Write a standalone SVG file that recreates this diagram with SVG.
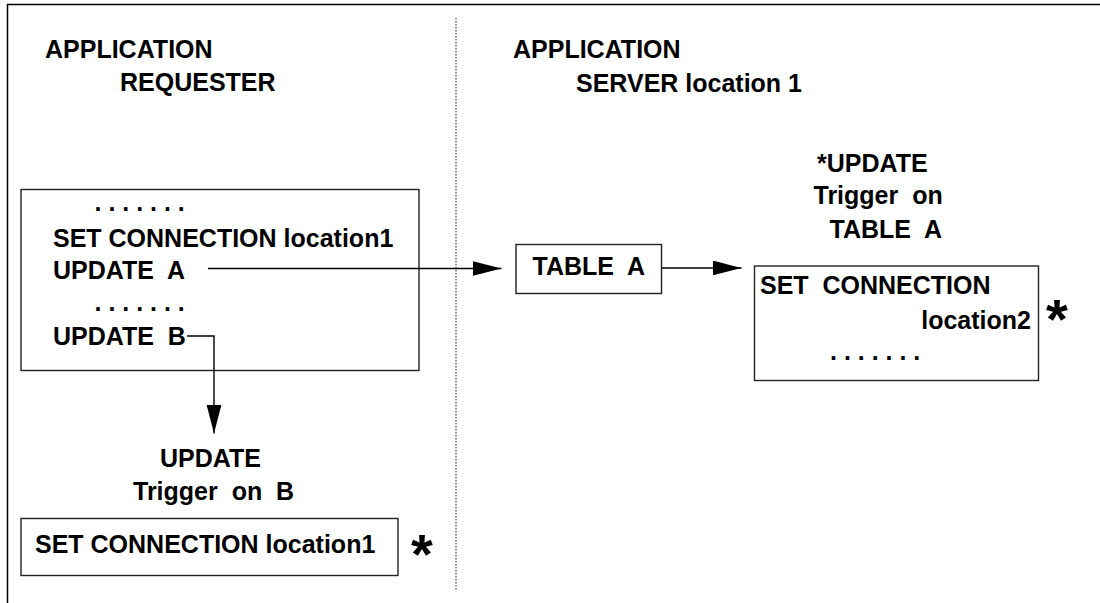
<svg xmlns="http://www.w3.org/2000/svg" width="1100" height="603" viewBox="0 0 1100 603">
<style>
.t{font-family:"Liberation Sans",Arial,sans-serif;font-weight:bold;font-size:25px;fill:#000;white-space:pre}
.star{font-family:"Liberation Sans",Arial,sans-serif;font-weight:bold;font-size:56px;fill:#000}
.box{fill:#fff;stroke:#222;stroke-width:1.4}
.conn{fill:none;stroke:#000;stroke-width:1.4}
</style>
<defs>
<marker id="ah" markerUnits="userSpaceOnUse" markerWidth="30" markerHeight="16" refX="29" refY="7.5" orient="auto">
<path d="M0,0 L29,7.5 L0,15 z" fill="#000"/>
</marker>
</defs>
<rect width="1100" height="603" fill="#fff"/>
<g id="frame">
<line x1="7" y1="4.5" x2="1100" y2="4.5" stroke="#000" stroke-width="1.5"/>
<line x1="7.5" y1="4" x2="7.5" y2="603" stroke="#000" stroke-width="1.5"/>
<line x1="456" y1="18" x2="456" y2="590" stroke="#444" stroke-width="1.2" stroke-dasharray="1.5 1.5"/>
</g>
<g id="header-requester">
<text class="t" x="45" y="58">APPLICATION</text>
<text class="t" x="120" y="91">REQUESTER</text>
</g>
<g id="header-server">
<text class="t" x="513" y="58">APPLICATION</text>
<text class="t" x="576" y="92">SERVER location 1</text>
</g>
<g id="requester-program">
<rect class="box" x="21" y="189.5" width="398" height="181"/>
<text class="t" x="94.5" y="211" xml:space="preserve">. . . . . . .</text>
<text class="t" x="53" y="246.5">SET CONNECTION location1</text>
<text class="t" x="53" y="278.5" xml:space="preserve">UPDATE  A</text>
<text class="t" x="94.5" y="311" xml:space="preserve">. . . . . . .</text>
<text class="t" x="53" y="345" xml:space="preserve">UPDATE  B</text>
</g>
<g id="trigger-b">
<text class="t" x="160" y="466.5">UPDATE</text>
<text class="t" x="133" y="500" xml:space="preserve">Trigger  on  B</text>
<rect class="box" x="21" y="518.5" width="377" height="57"/>
<text class="t" x="35" y="553">SET CONNECTION location1</text>
<text class="star" x="411" y="573">*</text>
</g>
<g id="table-a">
<rect class="box" x="516" y="244.5" width="145.5" height="49"/>
<text class="t" x="532.5" y="275" xml:space="preserve">TABLE  A</text>
</g>
<g id="trigger-a">
<text class="t" x="817" y="172">*UPDATE</text>
<text class="t" x="813.5" y="204" xml:space="preserve">Trigger  on</text>
<text class="t" x="829.5" y="238" xml:space="preserve">TABLE  A</text>
<rect class="box" x="754.5" y="266" width="284" height="114.5"/>
<text class="t" x="760" y="294" xml:space="preserve">SET  CONNECTION</text>
<text class="t" x="1031" y="328.5" text-anchor="end">location2</text>
<text class="t" x="830" y="360" xml:space="preserve">. . . . . . .</text>
<text class="star" x="1046" y="338">*</text>
</g>
<g id="connectors">
<line class="conn" x1="208" y1="268.5" x2="501.5" y2="268.5" marker-end="url(#ah)"/>
<line class="conn" x1="662" y1="268" x2="741.5" y2="268" marker-end="url(#ah)"/>
<polyline class="conn" points="187,336 214,336 214,433.5" marker-end="url(#ah)"/>
</g>
</svg>
